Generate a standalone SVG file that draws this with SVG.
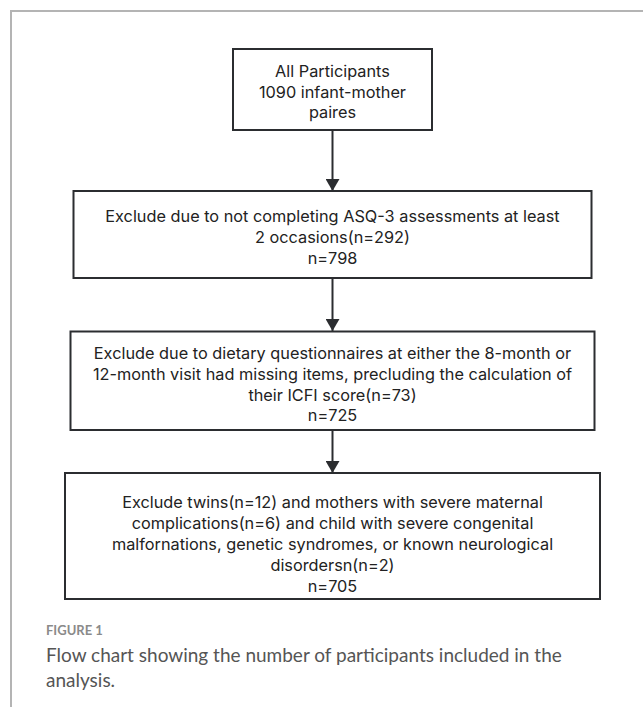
<svg xmlns="http://www.w3.org/2000/svg" width="643" height="707" viewBox="0 0 643 707">
<style>
.frame{fill:none;stroke:#b4b4b4;stroke-width:2}
.box{fill:#fff;stroke:#2b2d30;stroke-width:2}
.t{font-family:Inter,"Noto Sans",sans-serif;font-size:16.3px;fill:#222;text-anchor:middle}
.conn{stroke:#2b2d30;stroke-width:2;fill:none}
.cap{font-family:Lato,"Open Sans",sans-serif;fill:#555}
</style>
<defs>
<marker id="arr" viewBox="0 0 12 14" refX="12" refY="7" markerWidth="12" markerHeight="14" markerUnits="userSpaceOnUse" orient="auto">
<path d="M0,0 L12,7 L0,14 Z" fill="#2b2d30"/>
</marker>
</defs>
<rect width="643" height="707" fill="#fff"/>
<path class="frame" d="M11,707 V11 H643"/>
<g id="connectors">
<line class="conn" x1="332.5" y1="130" x2="332.5" y2="191" marker-end="url(#arr)"/>
<line class="conn" x1="332.5" y1="278" x2="332.5" y2="331" marker-end="url(#arr)"/>
<line class="conn" x1="332.5" y1="430" x2="332.5" y2="473" marker-end="url(#arr)"/>
</g>
<g id="n1">
<rect class="box" x="233" y="49" width="199" height="81"/>
<text class="t" x="332.5" y="77">All Participants</text>
<text class="t" x="332.5" y="97.5">1090 infant-mother</text>
<text class="t" x="332.5" y="118">paires</text>
</g>
<g id="n2">
<rect class="box" x="73.5" y="191" width="518" height="87"/>
<text class="t" x="332.5" y="222">Exclude due to not completing ASQ-3 assessments at least</text>
<text class="t" x="332.5" y="243">2 occasions(n=292)</text>
<text class="t" x="332.5" y="264">n=798</text>
</g>
<g id="n3">
<rect class="box" x="70.5" y="331.5" width="524" height="98.5"/>
<text class="t" x="332.5" y="359">Exclude due to dietary questionnaires at either the 8-month or</text>
<text class="t" x="332.5" y="380">12-month visit had missing items, precluding the calculation of</text>
<text class="t" x="332.5" y="400.5">their ICFI score(n=73)</text>
<text class="t" x="332.5" y="421">n=725</text>
</g>
<g id="n4">
<rect class="box" x="65" y="473" width="535" height="126"/>
<text class="t" x="332.5" y="508">Exclude twins(n=12) and mothers with severe maternal</text>
<text class="t" x="332.5" y="529">complications(n=6) and child with severe congenital</text>
<text class="t" x="332.5" y="550">malfornations, genetic syndromes, or known neurological</text>
<text class="t" x="332.5" y="571">disordersn(n=2)</text>
<text class="t" x="332.5" y="592">n=705</text>
</g>
<g id="caption">
<text class="cap" x="46" y="635" font-size="13" font-weight="bold" style="fill:#8a8a8a">FIGURE 1</text>
<text class="cap" x="46" y="662" font-size="19">Flow chart showing the number of participants included in the</text>
<text class="cap" x="46" y="687" font-size="19">analysis.</text>
</g>
</svg>
